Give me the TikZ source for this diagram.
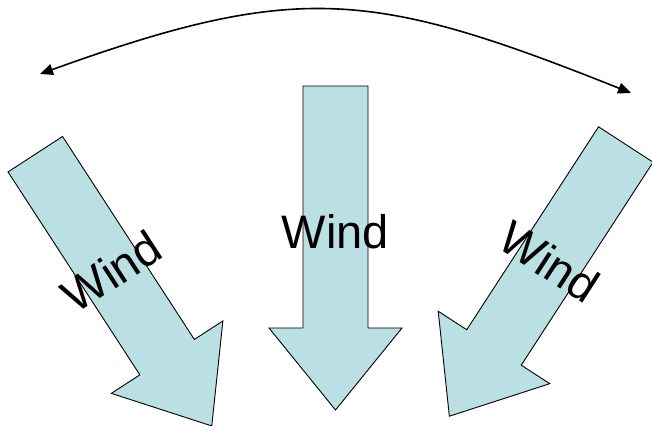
\documentclass[tikz,border=0pt]{standalone}
\usepackage{fontspec}
\setmainfont{Liberation Sans}
\usetikzlibrary{arrows.meta}
\definecolor{windfill}{RGB}{187,224,227}
\tikzset{
  windarrow/.style={draw=black, line width=0.9pt, fill=windfill, line join=miter},
  windlabel/.style={font=\fontsize{47}{50}\selectfont, inner sep=0pt, text=black},
  swing/.style={line width=1.6pt, {Triangle[length=13pt,width=11pt]}-{Triangle[length=13pt,width=11pt]}}
}
\begin{document}
\begin{tikzpicture}[x=1pt,y=1pt]
\useasboundingbox (0,0) rectangle (652,425);
% left arrow
\begin{scope}[shift={(35.3,270.8)}, rotate=33]
  \path[windarrow] (-32.5,0) -- (32.5,0) -- (32.5,-242) -- (66.5,-242) -- (0,-324) -- (-66.5,-242) -- (-32.5,-242) -- cycle;
  \node[windlabel, rotate=33] (windL) at (0,-140) {Wind};
\end{scope}
% middle arrow
\begin{scope}[shift={(335.5,339)}]
  \path[windarrow] (-32.5,0) -- (32.5,0) -- (32.5,-242) -- (66.5,-242) -- (0,-324) -- (-66.5,-242) -- (-32.5,-242) -- cycle;
  \node[windlabel] (windM) at (0,-146) {Wind};
\end{scope}
% right arrow
\begin{scope}[shift={(625.8,280.5)}, rotate=-33]
  \path[windarrow] (-32.5,0) -- (32.5,0) -- (32.5,-242) -- (66.5,-242) -- (0,-324) -- (-66.5,-242) -- (-32.5,-242) -- cycle;
  \node[windlabel, rotate=-33] (windR) at (0,-140) {Wind};
\end{scope}
% swing arc
\coordinate (swingL) at (40,351);
\coordinate (swingR) at (631,332);
\draw[swing] (swingL) .. controls (298,444) and (373,435) .. (swingR);
\end{tikzpicture}
\end{document}
